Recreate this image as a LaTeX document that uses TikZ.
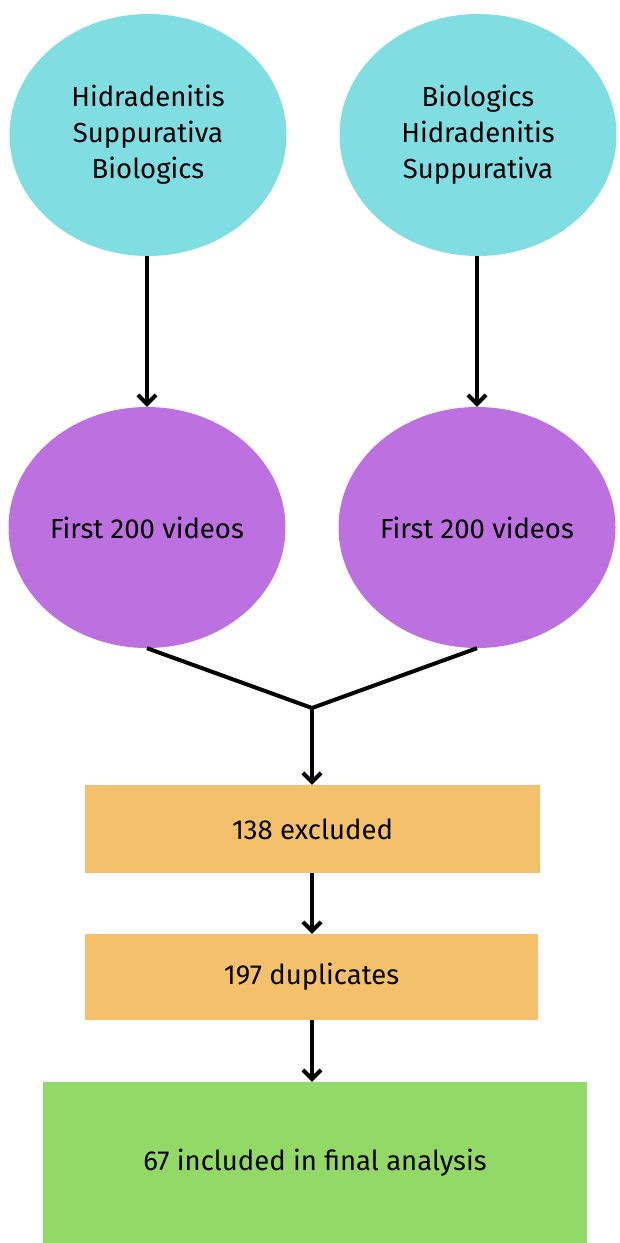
\documentclass[tikz,border=0pt]{standalone}
\usepackage{fontspec}
\setmainfont{Fira Sans}
\usetikzlibrary{arrows.meta,shapes.geometric}
\definecolor{cyanfill}{RGB}{128,222,226}
\definecolor{purplefill}{RGB}{189,112,224}
\definecolor{orangefill}{RGB}{244,192,108}
\definecolor{greenfill}{RGB}{146,217,104}
\tikzset{
  txt/.style={font=\fontsize{27.5}{36}\selectfont},
  cyanoval/.style={txt, draw=none, fill=cyanfill, ellipse, minimum width=277pt, minimum height=242pt, inner sep=0pt, align=center},
  purpleoval/.style={txt, draw=none, fill=purplefill, ellipse, minimum width=277pt, minimum height=241pt, inner sep=0pt, align=center},
  boxnode/.style={txt, draw=none, rectangle, inner sep=0pt, align=center},
  conn/.style={line width=4pt, draw=black},
  arr/.style={conn, -{Straight Barb[length=9pt,width=18pt,line width=4pt]}}
}
\begin{document}
\begin{tikzpicture}[x=1pt,y=-1pt]
\useasboundingbox (0,0) rectangle (620,1243);
\node[cyanoval] (c1) at (148,135) {Hidradenitis\\Suppurativa\\Biologics};
\node[cyanoval] (c2) at (478,135) {Biologics\\Hidradenitis\\Suppurativa};
\node[purpleoval] (p1) at (147,527.5) {First 200 videos};
\node[purpleoval] (p2) at (477,527.5) {First 200 videos};
\node[boxnode, fill=orangefill, minimum width=455pt, minimum height=88pt] (b1) at (312.5,829) {138 excluded};
\node[boxnode, fill=orangefill, minimum width=453pt, minimum height=86pt] (b2) at (311.5,977) {197 duplicates};
\node[boxnode, fill=greenfill, minimum width=544pt, minimum height=161pt] (b3) at (315,1162.5) {67 included in final analysis};
\coordinate (j) at (312,708);
\draw[arr] (c1.south -| p1) -- (p1.north);
\draw[arr] (c2.south -| p2) -- (p2.north);
\draw[conn, line join=miter] (p1.south) -- (j) -- (p2.south);
\draw[arr] (j) -- (b1.north -| j);
\draw[arr] (b1.south -| j) -- (b2.north -| j);
\draw[arr] (b2.south -| j) -- (b3.north -| j);
\end{tikzpicture}
\end{document}
